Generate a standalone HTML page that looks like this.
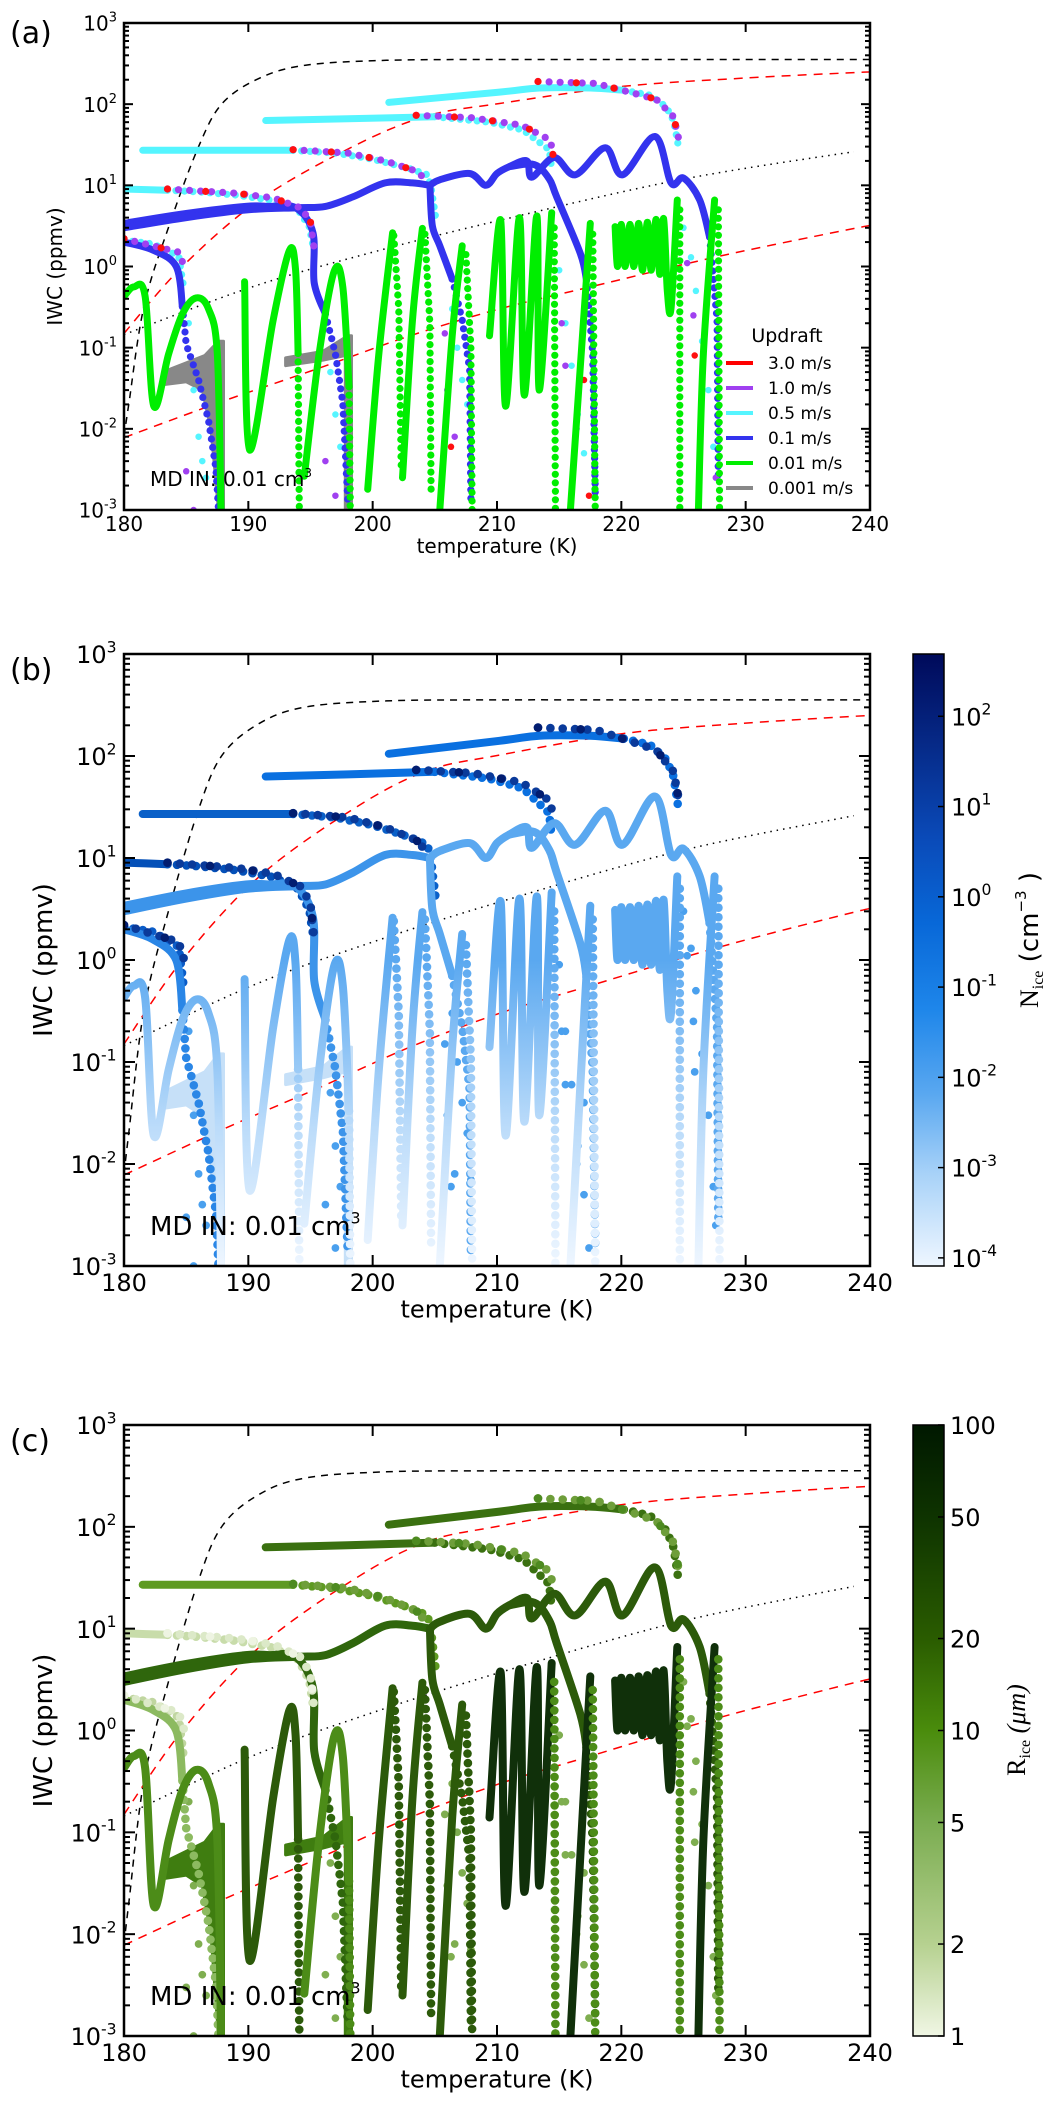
<!DOCTYPE html>
<html><head><meta charset="utf-8"><title>IWC vs temperature</title>
<style>
html,body{margin:0;padding:0;background:#fff;}
svg{display:block;font-family:"DejaVu Sans","Liberation Sans",sans-serif;}
</style></head>
<body>
<svg id="fig" width="1049" height="2106" viewBox="0 0 1049 2106" xmlns="http://www.w3.org/2000/svg">
<defs>
<linearGradient id="cbBlue" x1="0" y1="1" x2="0" y2="0">
<stop offset="0" stop-color="#eef6ff"/><stop offset="0.15" stop-color="#a8d2f8"/><stop offset="0.28" stop-color="#5aa8f0"/><stop offset="0.42" stop-color="#1e86ea"/><stop offset="0.56" stop-color="#0868d8"/><stop offset="0.7" stop-color="#0a4ab8"/><stop offset="0.85" stop-color="#062a88"/><stop offset="1" stop-color="#000a5a"/>
</linearGradient>
<linearGradient id="cbGreen" x1="0" y1="1" x2="0" y2="0">
<stop offset="0" stop-color="#f0f6e4"/><stop offset="0.15" stop-color="#b6d190"/><stop offset="0.35" stop-color="#7aac50"/><stop offset="0.5" stop-color="#4a8c0c"/><stop offset="0.65" stop-color="#2a5c00"/><stop offset="0.85" stop-color="#0e3300"/><stop offset="1" stop-color="#001800"/>
</linearGradient>
<linearGradient id="fadeB" gradientUnits="userSpaceOnUse" x1="0" y1="960" x2="0" y2="1266">
<stop offset="0" stop-color="#5aa8f0"/><stop offset="0.55" stop-color="#bcdcfa"/><stop offset="1" stop-color="#eef6ff"/>
</linearGradient>
<clipPath id="clipA"><rect x="124" y="23" width="746" height="487"/></clipPath>
<clipPath id="clipB"><rect x="124" y="654" width="746" height="612"/></clipPath>
<clipPath id="clipC"><rect x="124" y="1425" width="746" height="611"/></clipPath>
</defs>
</svg>
<script>
// ---------- reference curves ----------
const dashedBlackT = [180.0,180.4,181.6,183.6,186.0,187.9,190.9,194.6,201.1,210.0,220,230,240];
const dashedBlackV = [0.008,0.021,0.32,3.1,30,102,209,302,347,355,355,355,355];
const redUpperT = [180,184.7,190.9,198.4,204.3,210.2,220.2,230,238.7,240];
const redUpperV = [0.15,1,6.6,30,71,102,166,210,245,248];
const redLowerT = [180,188,195.7,203,210.2,217.5,228,239,240];
const redLowerV = [0.0078,0.022,0.056,0.14,0.3,0.56,1.35,3,3.1];
const dottedT = [180,190.3,200,210.2,224.7,238.7];
const dottedV = [0.145,0.56,1.5,3.7,11.7,26];

// ---------- 0.5 m/s (cyan) ----------
const cyanC0 = [[180,2.1],[182.3,1.9],[184.4,1.35],[184.8,0.55]];
const cyanC1Line = [[180,9],[183.5,8.7]];
const cyanC1Dots = [[183.5,8.7],[186,8.3],[189,7.6],[192,6.5],[194,5],[194.9,3.1],[195.2,1.8]];
const cyanC2Line = [[181.5,27],[193.6,27]];
const cyanC2Dots = [[193.6,27],[197,25],[200,21],[203,16],[204.4,13.5],[204.7,9.5],[205.1,3.7]];
const cyanC3Line = [[191.4,63],[198,66],[205,70]];
const cyanC3Dots = [[205,70],[209.4,60],[212.1,48],[214.2,27.5],[214.4,16]];
const cyanC4Line = [[201.3,105],[210.2,141],[213.4,158],[217.5,158],[220.2,148]];
const cyanC4Dots = [[220.2,148],[222.3,129],[223.6,93],[224.2,63],[224.6,30]];
const cyanTail = [[185.2,0.2],[185.6,0.03],[186,0.008],[186.3,0.004],[186.6,0.0025],[196.3,0.2],[196.6,0.05],[197,0.015],[197.4,0.006],[206.4,0.3],[206.8,0.1],[207.2,0.04],[207.6,0.02],[207.9,0.007],[215,0.9],[215.5,0.2],[216,0.06],[216.5,0.015],[217,0.005],[225,3],[225.6,1.3],[226,0.5],[226.5,0.12],[227,0.03],[227.4,0.006]];
// ---------- 1.0 m/s (purple) and 3.0 m/s (red) ----------
const purpleP1 = [[180,2.2],[184.4,1.5],[184.9,0.95]];
const purpleP2 = [[183.5,9],[189,8],[192,7],[194.3,5.2],[195,3.5],[195.3,1.6]];
const purpleP3 = [[193.6,27.5],[198,25],[201,20],[203.5,15],[204.5,11]];
const purpleP4 = [[203.5,73],[208,68],[212,55],[214.3,36],[214.5,24]];
const purpleP5 = [[213.3,190],[218,180],[222.8,115],[224.2,70],[224.7,33]];
const purpleTail = [[185,0.003],[185.6,0.001],[196.2,0.004],[197,0.0015],[205.8,0.15],[206,0.03],[206.6,0.008],[215.2,0.2],[215.5,0.06],[216.4,0.01],[225.3,1.1],[225.8,0.25],[227.6,0.0025]];
const redTail = [[206.3,0.006],[217,0.04],[217.4,0.0015],[225.9,0.08]];
// ---------- 0.1 m/s (blue) ----------
const blueB1Line = [[180,2],[182.3,1.6],[184.2,1],[184.7,0.32]];
const blueB1Dots = [[184.7,0.32],[185,0.11],[186,0.04],[186.8,0.0126],[187.4,0.0032],[187.6,0.001]];
const blueB2aLine = [[180,3.4],[185,4.5],[189.8,5.5],[191.7,5.5],[193.8,5.3],[195.2,2.6],[195.3,0.63],[196.2,0.26]];
const blueB2aDots = [[196.2,0.26],[197,0.085],[197.6,0.021],[198,0.0013]];
const blueB2bLine = [[180,3],[185,4],[190,5],[194,5.3],[196.2,5.5],[198.4,7.2],[201,10.7],[203.2,10.7],[204.6,10]];
const blueB3Line = [[204.6,10],[204.8,3.2],[205.4,1.8],[206.4,0.7]];
const blueB3Dots = [[206.4,0.7],[207.2,0.22],[207.8,0.054],[207.9,0.0013]];
const blueB4Line = [[204.6,10],[205.4,11.7],[207.8,14],[209.1,10],[210,14],[211,17],[212.4,20],[212.8,12.6],[214.6,22],[216.3,13.5],[218.7,29],[220.1,13.5],[222.7,40],[224,10.7],[225,12.3],[226.3,6.6],[227.1,2.3]];
const blueB4Dots = [[227.1,2.3],[227.7,0.22],[227.8,0.0025]];
const blueB5Line = [[211,17],[213,18],[214.2,12],[214.8,7.2],[216.7,1.45],[217.2,0.68]];
const blueB5Dots = [[217.2,0.68],[217.7,0.085],[217.9,0.0016]];
// ---------- 0.01 m/s (green) ----------
const greenG1 = [[180,0.43],[180.8,0.56],[181.7,0.43],[182.4,0.019],[183.6,0.085],[184.7,0.26],[185.8,0.41],[186.8,0.3],[187.5,0.085],[187.8,0.001]];
const greenG2 = [[189.7,0.65],[190.1,0.0055],[192,0.22],[193.3,1.58],[193.8,0.9],[194,0.085]];
const greenG2Dots = [[194,0.085],[194.1,0.001]];
const greenG3 = [[194.5,0.0026],[195.7,0.085],[196.9,0.87],[197.6,0.56],[198.1,0.033]];
const greenG3Dots = [[198.1,0.033],[198.2,0.001]];
const greenG4a = [[199.6,0.0018],[200.5,0.085],[201.6,2.6]];
const greenG4aDots = [[201.7,2.4],[202.1,0.3],[202.3,0.003]];
const greenG4b = [[202.4,0.0025],[203.2,0.22],[204,2.95]];
const greenG4bDots = [[204.2,2.5],[204.6,0.2],[204.7,0.0015]];
const greenG5 = [[205.4,0.001],[206.4,0.14],[207.2,1.8]];
const greenG5Dots = [[207.5,1.4],[207.9,0.1],[208,0.001]];
const greenG6 = [[209.4,0.14],[210.3,3.7],[210.7,0.019],[211.8,4],[212.2,0.026],[213.2,4.2],[213.4,0.03],[214.4,4.6]];
const greenG6Dots = [[214.6,3],[214.7,0.001]];
const greenG7 = [[215.9,0.001],[217.5,3.4]];
const greenG7Dots = [[217.7,2.5],[217.9,0.001]];
const greenG8 = [[219.5,3.1],[219.7,1],[220,3.3],[220.3,1],[220.7,3.3],[221,1],[221.4,3.4],[221.7,0.9],[222.1,3.5],[222.4,0.9],[222.8,3.8],[223.1,0.8],[223.4,3.9],[223.7,0.5],[224,0.31],[224.5,6.6]];
const greenG8Dots = [[224.7,5],[224.7,0.001]];
const greenG9 = [[226.2,0.001],[226.6,0.085],[227.5,6.6]];
const greenG9Dots = [[227.8,5],[227.9,0.001]];
// ---------- 0.001 m/s (gray bands) ----------
const grayBand1Top = [[183.1,0.05],[185,0.065],[186.5,0.08],[187.6,0.12],[188,0.12]];
const grayBand1Bottom = [[183.1,0.035],[185,0.038],[186.3,0.03],[187,0.01],[187.6,0.001],[188,0.001]];
const grayBand2Top = [[193,0.075],[196,0.09],[198,0.14],[198.3,0.14]];
const grayBand2Bottom = [[193,0.06],[196,0.07],[197.8,0.08],[197.8,0.001],[198.3,0.001]];
// ---------- legend & colorbar ----------
const legendLabels = ["3.0 m/s","1.0 m/s","0.5 m/s","0.1 m/s","0.01 m/s","0.001 m/s"];
const xTicks = [180,190,200,210,220,230,240];
const yDecades = [3,2,1,0,-1,-2,-3];
const cbNiceExp = [2,1,0,-1,-2,-3,-4];
const cbRiceTicks = [100,50,20,10,5,2,1];

// ---------- layout (not data) ----------
const NS="http://www.w3.org/2000/svg";
const svg=document.getElementById('fig');
const X0=124,X1=870;
const panels=[
 {id:'a',top:23,bot:510,clip:'clipA',fs:20,lw:7,r:3.6,idx:0},
 {id:'b',top:654,bot:1266,clip:'clipB',fs:24,lw:8,r:4.3,idx:1},
 {id:'c',top:1425,bot:2036,clip:'clipC',fs:24,lw:8,r:4.3,idx:2}
];
function xs(t){return X0+(t-180)/60*(X1-X0);}
function ys(p,v){return p.top+(3-Math.log10(v))/6*(p.bot-p.top);}
function mk(tag,attrs,parent){const e=document.createElementNS(NS,tag);for(const k in attrs)e.setAttribute(k,attrs[k]);(parent||svg).appendChild(e);return e;}

const COL={
 cyanLine:['#55f5ff','#0a6ad8','#5e9a22'],
 cyanC1:['#55f5ff','#0450b8','#c8dcaa'],
 cyanC0:['#55f5ff','#0a5cc8','#c0d6a0'],
 cyanC2:['#55f5ff','#0a60c8','#5e9a22'],
 cyanC4:['#55f5ff','#0a70e0','#3a7010'],
 purple:['#a040f0','#0a3a9a','#6e9e3a'],
 purpleLight:['#a040f0','#0a3a9a','#dce9c8'],
 red:['#ff1010','#021d70','#4d8a20'],
 redLight:['#ff1010','#021d70','#eef4e2'],
 tail:['#55f5ff','#4aa0ee','#7fae50'],
 blue:['#3333ee','#5aa8f0','#2c5a0a'],
 blueEarly:['#3333ee','#3c94ea','#2f660c'],
 blueB1:['#3333ee','#2a86e6','#8cba60'],
 greenEarly:['#00ee00','url(#fadeB)','#4c8c18'],
 greenMid:['#00ee00','url(#fadeB)','#2c5a0a'],
 greenLate:['#00ee00','url(#fadeB)','#10300a'],
 gray:['#888888','#c6e0f8','#3f7d10']
};

function pathD(p,pts){return pts.map((q,i)=>(i?'L':'M')+xs(q[0]).toFixed(1)+' '+ys(p,q[1]).toFixed(1)).join(' ');}
function smoothPts(P){let d='M'+P[0][0].toFixed(1)+' '+P[0][1].toFixed(1);
 for(let i=0;i<P.length-1;i++){const p0=P[i-1]||P[i],p1=P[i],p2=P[i+1],p3=P[i+2]||P[i+1];
  const c1=[p1[0]+(p2[0]-p0[0])/6,p1[1]+(p2[1]-p0[1])/6],c2=[p2[0]-(p3[0]-p1[0])/6,p2[1]-(p3[1]-p1[1])/6];
  d+=' C'+c1[0].toFixed(1)+' '+c1[1].toFixed(1)+' '+c2[0].toFixed(1)+' '+c2[1].toFixed(1)+' '+p2[0].toFixed(1)+' '+p2[1].toFixed(1);}
 return d;}
function smoothD(p,T,V){return smoothPts(T.map((t,i)=>[xs(t),ys(p,V[i])]));}
function drawLine(g,p,pts,color,name){
 const e=mk('path',{d:smoothPts(pts.map(q=>[xs(q[0]),ys(p,q[1])])),fill:'none',stroke:color,'stroke-width':p.lw,'stroke-linecap':'round','stroke-linejoin':'round'},g);
 
 }
function drawDots(g,p,pts,color,name,spacing){
 const gg=mk('g',{fill:color},g);
 
 
 const P=pts.map(q=>[xs(q[0]),ys(p,q[1])]);let carry=0;
 for(let i=0;i<P.length-1;i++){const dx=P[i+1][0]-P[i][0],dy=P[i+1][1]-P[i][1],L=Math.hypot(dx,dy);
  let s=carry;while(s<=L){mk('circle',{cx:(P[i][0]+dx*s/L).toFixed(1),cy:(P[i][1]+dy*s/L).toFixed(1),r:p.r},gg);s+=spacing;}carry=s-L;}}
function drawScatter(g,p,pts,color,name){
 const gg=mk('g',{fill:color},g);
 
 
 pts.forEach(q=>mk('circle',{cx:xs(q[0]).toFixed(1),cy:ys(p,q[1]).toFixed(1),r:p.r*0.9},gg));}
function drawBand(g,p,top,bottom,color,name){
 const pts=top.concat(bottom.slice().reverse());
 const e=mk('path',{d:pathD(p,pts)+' Z',fill:color,stroke:color,'stroke-width':3,'stroke-linejoin':'round'},g);
 
 }

function supText(parent,x,y,base,exp,fs,anchor,name){
 const t=mk('text',{x:x,y:y,'font-size':fs,'text-anchor':anchor,fill:'#000'},parent);
 
 
 t.appendChild(document.createTextNode(base));
 const s=mk('tspan',{dy:-fs*0.45,'font-size':fs*0.65},t);s.textContent=exp;return t;}

panels.forEach(p=>{
 const k=p.idx;
 const g=mk('g',{});
 
 
 const plot=mk('g',{'clip-path':'url(#'+p.clip+')'},g);
 
 
 const rl=[[dashedBlackT,dashedBlackV,'#000','7 6','saturation-curve'],[redUpperT,redUpperV,'#ff0000','9 7','red-dashed-upper'],[redLowerT,redLowerV,'#ff0000','9 7','red-dashed-lower'],[dottedT,dottedV,'#000','1.5 5','black-dotted-line']];
 rl.forEach(r=>{const e=mk('path',{d:smoothD(p,r[0],r[1]),fill:'none',stroke:r[2],'stroke-width':1.5,'stroke-dasharray':r[3]},plot);
  
  });
 const sp=p.lw+1.5;
 drawBand(plot,p,grayBand1Top,grayBand1Bottom,COL.gray[k],'updraft-0001-band-1');
 drawBand(plot,p,grayBand2Top,grayBand2Bottom,COL.gray[k],'updraft-0001-band-2');
 drawDots(plot,p,cyanC0,COL.cyanC0[k],'updraft-05-c0',sp);
 drawLine(plot,p,cyanC1Line,COL.cyanC1[k],'updraft-05-c1');
 drawDots(plot,p,cyanC1Dots,COL.cyanC1[k],'updraft-05-c1-dots',sp);
 drawLine(plot,p,cyanC2Line,COL.cyanC2[k],'updraft-05-c2');
 drawDots(plot,p,cyanC2Dots,COL.cyanC2[k],'updraft-05-c2-dots',sp);
 drawLine(plot,p,cyanC3Line,COL.cyanC4[k],'updraft-05-c3');
 drawDots(plot,p,cyanC3Dots,COL.cyanC4[k],'updraft-05-c3-dots',sp);
 drawLine(plot,p,cyanC4Line,COL.cyanC4[k],'updraft-05-c4');
 drawDots(plot,p,cyanC4Dots,COL.cyanC4[k],'updraft-05-c4-dots',sp);
 drawScatter(plot,p,cyanTail,COL.tail[k],'updraft-05-tail');
 drawLine(plot,p,blueB1Line,COL.blueB1[k],'updraft-01-b1');
 drawDots(plot,p,blueB1Dots,COL.blueB1[k],'updraft-01-b1-dots',sp);
 drawLine(plot,p,blueB2aLine,COL.blueEarly[k],'updraft-01-b2a');
 drawDots(plot,p,blueB2aDots,COL.blueEarly[k],'updraft-01-b2a-dots',sp);
 drawLine(plot,p,blueB2bLine,COL.blueEarly[k],'updraft-01-b2b');
 drawLine(plot,p,blueB3Line,COL.blue[k],'updraft-01-b3');
 drawDots(plot,p,blueB3Dots,COL.blue[k],'updraft-01-b3-dots',sp);
 drawLine(plot,p,blueB4Line,COL.blue[k],'updraft-01-b4');
 drawDots(plot,p,blueB4Dots,COL.blue[k],'updraft-01-b4-dots',sp);
 drawLine(plot,p,blueB5Line,COL.blue[k],'updraft-01-b5');
 drawDots(plot,p,blueB5Dots,COL.blue[k],'updraft-01-b5-dots',sp);
 const purp=[purpleP1,purpleP2,purpleP3,purpleP4,purpleP5];
 purp.forEach((s,i)=>{const c=(i<2?COL.purpleLight:COL.purple)[k];drawDots(plot,p,s,c,'updraft-10-p'+(i+1),sp*1.3);});
 purp.forEach((s,i)=>{const c=(i<2?COL.redLight:COL.red)[k];drawDots(plot,p,s,c,'updraft-30-r'+(i+1),sp*4.5);});
 drawScatter(plot,p,purpleTail,k===0?COL.purple[0]:COL.tail[k],'updraft-10-tail');
 drawScatter(plot,p,redTail,k===0?COL.red[0]:COL.tail[k],'updraft-30-tail');
 drawLine(plot,p,greenG1,COL.greenEarly[k],'updraft-001-g1');
 drawLine(plot,p,greenG2,COL.greenMid[k],'updraft-001-g2');
 drawDots(plot,p,greenG2Dots,COL.greenMid[k],'updraft-001-g2-dots',sp);
 drawLine(plot,p,greenG3,COL.greenEarly[k],'updraft-001-g3');
 drawDots(plot,p,greenG3Dots,COL.greenEarly[k],'updraft-001-g3-dots',sp);
 const late=[[greenG4a,greenG4aDots],[greenG4b,greenG4bDots],[greenG5,greenG5Dots],[greenG6,greenG6Dots],[greenG7,greenG7Dots],[greenG8,greenG8Dots],[greenG9,greenG9Dots]];
 late.forEach((s,i)=>{const c=(i<3?COL.greenMid:COL.greenLate)[k];drawLine(plot,p,s[0],c,'updraft-001-g'+(i+4));drawDots(plot,p,s[1],i<3?c:(k===2?'#4c8c18':c),'updraft-001-g'+(i+4)+'-dots',sp);});

 const fr=mk('rect',{x:X0,y:p.top,width:X1-X0,height:p.bot-p.top,fill:'none',stroke:'#000','stroke-width':2.5},g);
 
 
 const tk=mk('g',{stroke:'#000','stroke-width':2},g);
 
 
 const ML=p.idx?11:9, mL=p.idx?6:5;
 xTicks.forEach(t=>{const x=xs(t);mk('line',{x1:x,y1:p.bot,x2:x,y2:p.bot-ML},tk);mk('line',{x1:x,y1:p.top,x2:x,y2:p.top+ML},tk);});
 for(let d=-3;d<3;d++){for(let m=1;m<10;m++){const v=m*Math.pow(10,d);const y=ys(p,v);const L=m===1?ML:mL;
  mk('line',{x1:X0,y1:y,x2:X0+L,y2:y},tk);mk('line',{x1:X1,y1:y,x2:X1-L,y2:y},tk);}}
 const fs=p.fs;
 xTicks.forEach(t=>{const e=mk('text',{x:xs(t),y:p.bot+fs*1.05,'font-size':fs,'text-anchor':'middle'},g);e.textContent=String(t);
  
  });
 yDecades.forEach(d=>{supText(g,X0-5-fs*0.1,ys(p,Math.pow(10,d))+fs*0.38,'10',String(d),fs,'end','y-tick-label');});
 const xl=mk('text',{x:(X0+X1)/2,y:p.bot+fs*2.15,'font-size':fs,'text-anchor':'middle'},g);xl.textContent='temperature (K)';
 
 
 const cy=(p.top+p.bot)/2,cx=p.idx?52:62;
 const yl=mk('text',{x:cx,y:cy,'font-size':p.idx?26:20,'text-anchor':'middle',transform:'rotate(-90 '+cx+' '+cy+')'},g);yl.textContent='IWC (ppmv)';
 
 
 const pl=mk('text',{x:10,y:p.top+(p.idx?26:20),'font-size':30},g);pl.textContent='('+p.id+')';
 
 
 const mdfs=p.idx?26:20;
 const md=mk('text',{x:150,y:p.bot-(p.idx?31:24),'font-size':mdfs},g);
 
 
 md.appendChild(document.createTextNode('MD IN: 0.01 cm'));
 const s3=mk('tspan',{dy:-mdfs*0.45,'font-size':mdfs*0.6},md);s3.textContent='3';
});

(function(){
 const g=mk('g',{});
 
 
 const t=mk('text',{x:787,y:342,'font-size':19,'text-anchor':'middle'},g);t.textContent='Updraft';
 const cols=['#ff0000','#a040f0','#55f5ff','#3333ee','#00ee00','#888888'];
 legendLabels.forEach((lab,i)=>{const y=363+i*25;
  const e=mk('g',{},g);
  
  
  mk('line',{x1:726,y1:y,x2:753,y2:y,stroke:cols[i],'stroke-width':4},e);
  const tx=mk('text',{x:768,y:y+6,'font-size':17},e);tx.textContent=lab;});
})();

(function(){
 const g=mk('g',{});
 
 
 const top=654,bot=1266,lo=-4.09,hi=2.69;
 mk('rect',{x:913,y:top,width:31,height:bot-top,fill:'url(#cbBlue)',stroke:'#000','stroke-width':1.5},g);
 cbNiceExp.forEach(e=>{const y=bot-(e-lo)/(hi-lo)*(bot-top);
  mk('line',{x1:944,y1:y,x2:938,y2:y,stroke:'#000','stroke-width':1.5},g);
  supText(g,951,y+9,'10',String(e),24,'start','colorbar-tick-label');});
 const cx=1038,cy=940;
 const t=mk('text',{x:cx,y:cy,'font-size':26,'text-anchor':'middle',transform:'rotate(-90 '+cx+' '+cy+')'},g);
 
 
 const n=mk('tspan',{'font-family':'Liberation Serif, serif'},t);n.textContent='N';
 const sb=mk('tspan',{'font-family':'Liberation Serif, serif','font-size':16,dy:5},t);sb.textContent='ice';
 const a=mk('tspan',{dy:-5},t);a.textContent=' (cm';
 const su=mk('tspan',{'font-size':15,dy:-12},t);su.textContent='\u22123';
 const b=mk('tspan',{dy:12},t);b.textContent=' )';
})();
(function(){
 const g=mk('g',{});
 
 
 const top=1425,bot=2036;
 mk('rect',{x:913,y:top,width:31,height:bot-top,fill:'url(#cbGreen)',stroke:'#000','stroke-width':1.5},g);
 cbRiceTicks.forEach(v=>{const y=bot-Math.log10(v)/2*(bot-top);
  mk('line',{x1:944,y1:y,x2:938,y2:y,stroke:'#000','stroke-width':1.5},g);
  const t=mk('text',{x:950,y:y+9,'font-size':24},g);t.textContent=String(v);
  
  });
 const cx=1025,cy=1730;
 const t=mk('text',{x:cx,y:cy,'font-size':26,'text-anchor':'middle','font-family':'Liberation Serif, serif',transform:'rotate(-90 '+cx+' '+cy+')'},g);
 
 
 t.appendChild(document.createTextNode('R'));
 const sb=mk('tspan',{'font-size':16,dy:5},t);sb.textContent='ice';
 const r=mk('tspan',{dy:-5,'font-style':'italic'},t);r.textContent=' (\u03bcm)';
})();
</script>
</body></html>
